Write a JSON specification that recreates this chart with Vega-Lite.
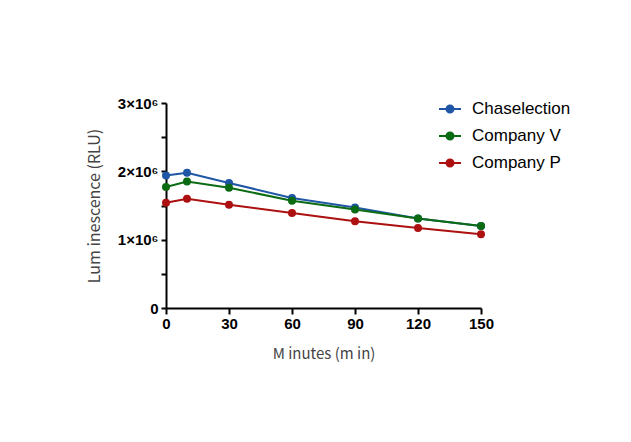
{
  "$schema": "https://vega.github.io/schema/vega-lite/v6.json",
  "width": 315,
  "height": 205,
  "autosize": "none",
  "padding": {"left": 166, "top": 103, "right": 150, "bottom": 134},
  "background": "white",
  "config": {
    "view": {"stroke": null},
    "axis": {"grid": false, "domainColor": "black", "domainWidth": 2, "tickColor": "black", "tickWidth": 2, "labelColor": "black", "titleColor": "#444444", "labelFlush": false}
  },
  "data": {
    "values": [
      {"t": 0, "v": 1940000, "s": "Chaselection"},
      {"t": 10, "v": 1980000, "s": "Chaselection"},
      {"t": 30, "v": 1830000, "s": "Chaselection"},
      {"t": 60, "v": 1610000, "s": "Chaselection"},
      {"t": 90, "v": 1470000, "s": "Chaselection"},
      {"t": 120, "v": 1310000, "s": "Chaselection"},
      {"t": 150, "v": 1200000, "s": "Chaselection"},
      {"t": 0, "v": 1770000, "s": "Company V"},
      {"t": 10, "v": 1850000, "s": "Company V"},
      {"t": 30, "v": 1760000, "s": "Company V"},
      {"t": 60, "v": 1570000, "s": "Company V"},
      {"t": 90, "v": 1440000, "s": "Company V"},
      {"t": 120, "v": 1310000, "s": "Company V"},
      {"t": 150, "v": 1200000, "s": "Company V"},
      {"t": 0, "v": 1540000, "s": "Company P"},
      {"t": 10, "v": 1600000, "s": "Company P"},
      {"t": 30, "v": 1510000, "s": "Company P"},
      {"t": 60, "v": 1390000, "s": "Company P"},
      {"t": 90, "v": 1270000, "s": "Company P"},
      {"t": 120, "v": 1170000, "s": "Company P"},
      {"t": 150, "v": 1080000, "s": "Company P"}
    ]
  },
  "encoding": {
    "x": {
      "field": "t", "type": "quantitative",
      "scale": {"domain": [0, 150], "nice": false},
      "axis": {"values": [0, 30, 60, 90, 120, 150], "tickSize": 6, "labelFont": "Liberation Sans", "labelFontWeight": "bold", "labelFontSize": 15, "labelPadding": 2, "title": "M inutes (m in)", "titleFont": "Noto Sans CJK SC", "titleFontWeight": "normal", "titleFontSize": 15, "titlePadding": 15}
    },
    "y": {
      "field": "v", "type": "quantitative",
      "scale": {"domain": [0, 3000000], "nice": false},
      "axis": {"values": [0, 500000, 1000000, 1500000, 2000000, 2500000, 3000000], "tickSize": 5, "labelExpr": "datum.value == 0 ? '0' : (datum.value % 1000000 == 0 ? format(datum.value/1000000, 'd') + '×10⁶' : '')", "labelFont": "Liberation Sans", "labelFontWeight": "bold", "labelFontSize": 15, "labelPadding": 3, "title": "Lum inescence (RLU)", "titleFont": "Noto Sans CJK SC", "titleFontWeight": "normal", "titleFontSize": 16, "titlePadding": 15}
    },
    "color": {
      "field": "s", "type": "nominal",
      "scale": {"domain": ["Chaselection", "Company V", "Company P"], "range": ["#1f56a5", "#0b6b12", "#ad1010"]},
      "legend": {"title": null, "orient": "none", "legendX": 272, "legendY": -6, "symbolType": "M-1,0H1M-0.32,0A0.32,0.32 0 1,1 0.32,0A0.32,0.32 0 1,1 -0.32,0Z", "symbolSize": 484, "symbolStrokeWidth": 2, "labelFont": "Liberation Sans", "labelFontSize": 17, "labelColor": "black", "rowPadding": 7, "labelOffset": 10}
    }
  },
  "layer": [
    {"mark": {"type": "line", "strokeWidth": 2}},
    {"mark": {"type": "point", "filled": true, "size": 64, "opacity": 1}}
  ]
}
